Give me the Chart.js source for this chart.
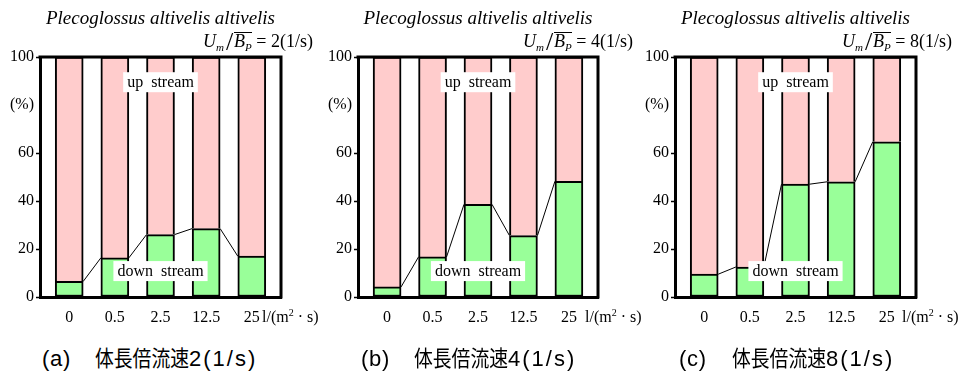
<!DOCTYPE html>
<html><head><meta charset="utf-8">
<script src="https://cdn.jsdelivr.net/npm/chart.js@4.4.1/dist/chart.umd.min.js"></script>
<style>
html,body{margin:0;padding:0;background:#fff;}
body{width:959px;height:371px;overflow:hidden;position:relative;font-family:"Liberation Serif",serif;color:#000;}
.panel{position:absolute;top:0;height:335px;}
.formula{position:absolute;top:31px;font-size:18px;line-height:20px;white-space:nowrap;text-align:right;}
.formula sub{font-size:11px;line-height:0;vertical-align:-4px;}
.formula .sl{font-size:26px;line-height:0;vertical-align:-3px;margin:0 1px 0 2px;}
.formula .ov{border-top:1px solid #000;display:inline-block;line-height:15px;padding-top:1px;}
.unit{position:absolute;top:307px;font-size:16px;line-height:20px;white-space:nowrap;}
.unit sup{font-size:10px;line-height:0;vertical-align:6px;}
.cap{position:absolute;top:343px;font-family:"Liberation Sans","Noto Sans CJK JP",sans-serif;font-size:22px;line-height:26px;white-space:nowrap;}
.cap .lt{display:inline-block;width:53px;letter-spacing:0.7px;}
.cap .cj{display:inline-block;width:94px;font-family:"Noto Sans CJK JP",sans-serif;transform:scaleX(0.855);transform-origin:0 50%;}
.cap .nm{letter-spacing:2px;}
</style></head><body>
<div class="panel" id="pa" style="left:0;width:322px;"><canvas id="ca"></canvas></div>
<div class="panel" id="pb" style="left:318px;width:322px;"><canvas id="cb"></canvas></div>
<div class="panel" id="pc" style="left:635px;width:324px;"><canvas id="cc"></canvas></div>

<div class="formula" style="right:646px;"><i>U</i><sub><i>m</i></sub><span class="sl">/</span><span class="ov"><i>B</i><sub><i>P</i></sub></span> = <span class="rate">2</span>(1/s)</div>
<div class="formula" style="right:326px;"><i>U</i><sub><i>m</i></sub><span class="sl">/</span><span class="ov"><i>B</i><sub><i>P</i></sub></span> = <span class="rate">4</span>(1/s)</div>
<div class="formula" style="right:7px;"><i>U</i><sub><i>m</i></sub><span class="sl">/</span><span class="ov"><i>B</i><sub><i>P</i></sub></span> = <span class="rate">8</span>(1/s)</div>

<div class="unit" style="left:262px;">l/(m<sup>2</sup> · s)</div>
<div class="unit" style="left:585px;">l/(m<sup>2</sup> · s)</div>
<div class="unit" style="left:902px;">l/(m<sup>2</sup> · s)</div>

<div class="cap" style="left:42px;"><span class="lt">(a)　</span><span class="cj">体長倍流速</span><span class="nm">2(1/s)</span></div>
<div class="cap" style="left:361px;"><span class="lt">(b)　</span><span class="cj">体長倍流速</span><span class="nm">4(1/s)</span></div>
<div class="cap" style="left:679px;"><span class="lt">(c)　</span><span class="cj">体長倍流速</span><span class="nm">8(1/s)</span></div>

<script>
// ---- data ----
const categories = ['0', '0.5', '2.5', '12.5', '25'];
const speciesTitle = 'Plecoglossus altivelis altivelis';
const downA = [6.5, 16.3, 26.0, 28.5, 17.0];
const upA   = [93.5, 83.7, 74.0, 71.5, 83.0];
const downB = [4.2, 16.7, 38.6, 25.6, 48.2];
const upB   = [95.8, 83.3, 61.4, 74.4, 51.8];
const downC = [9.5, 12.5, 47.0, 48.0, 64.7];
const upC   = [90.5, 87.5, 53.0, 52.0, 35.3];
const yTicks = [0, 20, 40, 60, 80, 100];
const zoneTexts = ['up  stream', 'down  stream'];

// ---- styling / layout ----
const GREEN = '#99ff99', PINK = '#ffcccc';
const zonePos = [{x: 2, y: 89.5}, {x: 2, y: 10.8}];

const overlay = {
  id: 'overlay',
  afterDatasetsDraw(chart) {
    const ctx = chart.ctx;
    const bars = chart.getDatasetMeta(0).data;
    ctx.save();
    ctx.strokeStyle = '#000';
    ctx.lineWidth = 1;
    ctx.beginPath();
    for (let i = 0; i < bars.length - 1; i++) {
      const a = bars[i], b = bars[i + 1];
      ctx.moveTo(a.x + a.width / 2, a.y);
      ctx.lineTo(b.x - b.width / 2, b.y);
    }
    ctx.stroke();
    const ca = chart.chartArea;
    ctx.lineWidth = 3;
    ctx.beginPath();
    ctx.moveTo(ca.left - 1.5, ca.top);
    ctx.lineTo(ca.right, ca.top);
    ctx.lineTo(ca.right, ca.bottom + 1.5);
    ctx.stroke();
    const xs = chart.scales.x, ys = chart.scales.y;
    ctx.font = '16px "Liberation Serif"';
    ctx.textAlign = 'center';
    ctx.textBaseline = 'middle';
    zoneTexts.forEach((t, k) => {
      const x = xs.getPixelForValue(zonePos[k].x), y = ys.getPixelForValue(zonePos[k].y);
      const w = ctx.measureText(t).width + 8, h = 20;
      ctx.fillStyle = '#fff';
      ctx.fillRect(x - w / 2, y - h / 2, w, h);
      ctx.fillStyle = '#000';
      ctx.fillText(t, x, y + 1);
    });
    ctx.restore();
  }
};

function makeChart(id, down, up, rightPad) {
  const tickFont = {family: 'Liberation Serif', size: 16};
  return new Chart(document.getElementById(id), {
    type: 'bar',
    data: {
      datasets: [
        {label: 'down stream', data: down.map((v, i) => ({x: i, y: v})), backgroundColor: GREEN,
         borderColor: '#000', borderWidth: 2, borderSkipped: false, barThickness: 28},
        {label: 'up stream', data: up.map((v, i) => ({x: i, y: v})), backgroundColor: PINK,
         borderColor: '#000', borderWidth: 2, borderSkipped: 'start', barThickness: 28}
      ]
    },
    options: {
      responsive: true, maintainAspectRatio: false, animation: false, devicePixelRatio: 1,
      layout: {padding: {left: 0, right: rightPad, top: 0, bottom: 0}},
      plugins: {
        legend: {display: false}, tooltip: {enabled: false},
        title: {display: true, text: speciesTitle, fullSize: false, color: '#000',
          font: {family: 'Liberation Serif', size: 19, style: 'italic', weight: 'normal'},
          padding: {top: 7.5, bottom: 26.7}}
      },
      scales: {
        x: {
          type: 'linear', min: -0.64, max: 4.64, stacked: true, offset: false,
          afterBuildTicks: s => { s.ticks = categories.map((c, i) => ({value: i})); },
          ticks: {callback: (v, i) => categories[i], font: tickFont, color: '#000', padding: 3,
                  maxRotation: 0, autoSkip: false},
          grid: {display: false, offset: false},
          border: {display: true, color: '#000', width: 3},
          afterFit: s => { s.height = 38; }
        },
        y: {
          stacked: true, min: 0, max: 100,
          afterBuildTicks: s => { s.ticks = yTicks.map(v => ({value: v})); },
          ticks: {callback: v => (v === 80 ? '(%)' : v), font: tickFont, color: '#000', padding: 2},
          grid: {drawOnChartArea: false, tickLength: 4, tickWidth: 1.5,
                 tickColor: c => (c.tick && c.tick.value === 80 ? 'rgba(0,0,0,0)' : '#000')},
          border: {display: true, color: '#000', width: 3},
          afterFit: s => { s.width = 40; }
        }
      }
    },
    plugins: [overlay]
  });
}

makeChart('ca', downA, upA, 41);
makeChart('cb', downB, upB, 42);
makeChart('cc', downC, upC, 43);
</script>
</body></html>
